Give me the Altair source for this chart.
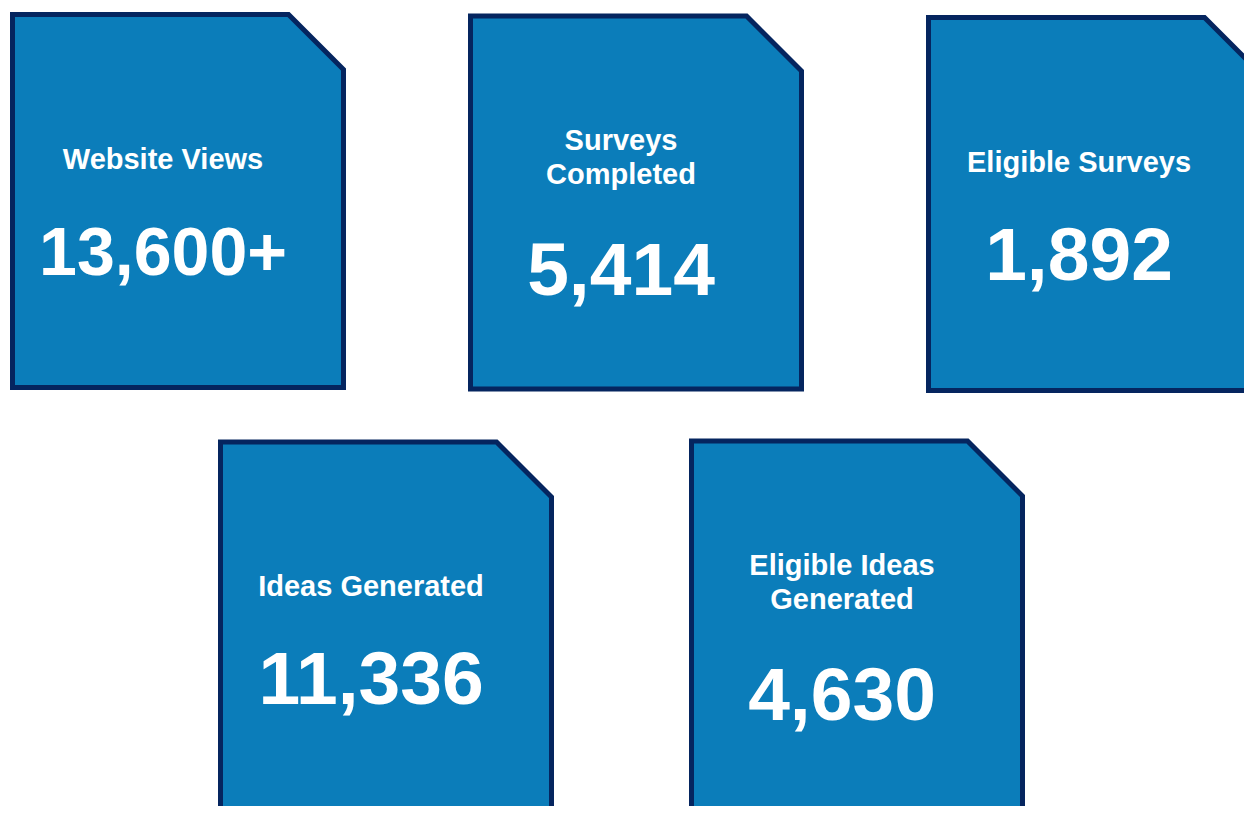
import altair as alt
import pandas as pd

# ---- data ----
labels = ["Website Views", "Surveys\nCompleted", "Eligible Surveys",
          "Ideas Generated", "Eligible Ideas\nGenerated"]
values = [13600, 5414, 1892, 11336, 4630]
suffixes = ["+", "", "", "", ""]
rows = [0, 0, 0, 1, 1]
cols = [0, 1, 2, 0, 1]

# ---- layout (page pixels) ----
ROW_LEFT = [12.5, 220.5]
ROW_STEP = [458, 471]
ROW_TOP = [14.5, 442]
CARD_W, CARD_H, CUT = 331, 373, 55
FILL, STROKE = "#0B7DBA", "#05255F"
FONT = "Liberation Sans"
NUM_MAX_SIZE, NUM_MAX_WIDTH = 75, 248
EM = {",": 0.278, "+": 0.584}


def fit_size(txt):
    em = sum(EM.get(ch, 0.556) for ch in txt)
    return min(NUM_MAX_SIZE, NUM_MAX_WIDTH / em)


half_h = CARD_H / CARD_W
cut = CUT / (CARD_W / 2)
shape = (f"M-1,{-half_h:.4f} L{1-cut:.4f},{-half_h:.4f} L1,{-half_h+cut:.4f} "
         f"L1,{half_h:.4f} L-1,{half_h:.4f} Z")

recs = []
for lab, v, suf, r, c in zip(labels, values, suffixes, rows, cols):
    left = ROW_LEFT[r] + c * ROW_STEP[r]
    top = ROW_TOP[r] + (c * 1.5 if r == 0 else -c)
    nlines = lab.count("\n") + 1
    num = f"{v:,}{suf}"
    size = fit_size(num)
    recs.append(dict(
        label=lab, num=num, nsize=size,
        cx=left + CARD_W / 2, cy=top + CARD_H / 2,
        tx=left + CARD_W / 2 - 15,
        ty=top + 145 - 20 * (nlines - 1),
        ny=top + 260 + 17 * (nlines - 1) + (size - 68) * 0.3,
    ))
df = pd.DataFrame(recs)

W, H = 1236, 798
xs = alt.Scale(domain=[8, 8 + W], range=[0, W])
ys = alt.Scale(domain=[8, 8 + H], reverse=True)

base = alt.Chart(df)

cards = base.mark_point(
    shape=shape, size=CARD_W ** 2, filled=True, fill=FILL, stroke=STROKE,
    strokeWidth=5, opacity=1, fillOpacity=1, strokeOpacity=1, clip=True,
    strokeJoin="miter",
).encode(
    x=alt.X("cx:Q", scale=xs, axis=None),
    y=alt.Y("cy:Q", scale=ys, axis=None),
)

titles = base.mark_text(
    font=FONT, fontSize=29, fontWeight="bold", color="white",
    align="center", baseline="middle", lineBreak="\n", lineHeight=34,
).encode(
    x=alt.X("tx:Q", scale=xs, axis=None),
    y=alt.Y("ty:Q", scale=ys, axis=None),
    text="label:N",
)

nums = base.mark_text(
    font=FONT, fontWeight="bold", color="white",
    align="center", baseline="alphabetic",
).encode(
    x=alt.X("tx:Q", scale=xs, axis=None),
    y=alt.Y("ny:Q", scale=ys, axis=None),
    size=alt.Size("nsize:Q", scale=None, legend=None),
    text="num:N",
)

chart = alt.layer(cards, titles, nums).properties(
    width=W, height=H, padding=0, autosize=alt.AutoSizeParams(type="none"),
).configure_view(stroke=None)

chart.save("out.html", embed_options={"renderer": "svg", "actions": False})
